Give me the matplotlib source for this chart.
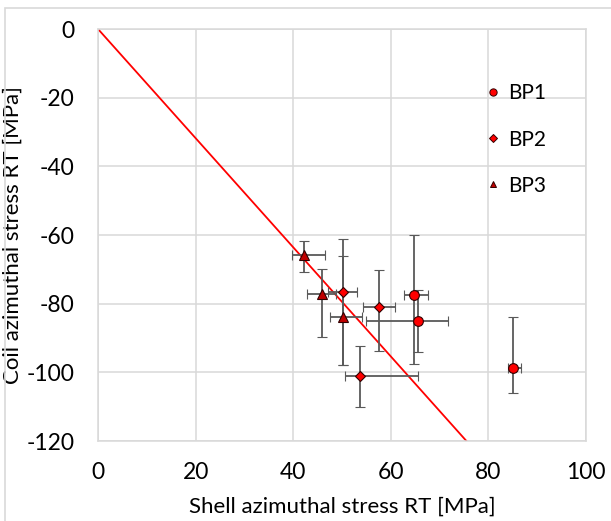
import matplotlib.pyplot as plt
from matplotlib.lines import Line2D
from matplotlib.patches import Rectangle

plt.rcParams['font.family'] = ['Lato', 'DejaVu Sans']
plt.rcParams['axes.unicode_minus'] = False

# values: centre, and low/high ends of each error bar
bp1_x = [64.8, 65.5, 85.0]
bp1_y = [-77.5, -85.1, -98.8]
bp1_x_lo = [62.8, 54.9, 84.0]
bp1_x_hi = [67.7, 71.7, 86.7]
bp1_y_lo = [-97.7, -94.0, -105.9]
bp1_y_hi = [-60.0, -76.0, -84.0]

bp2_x = [50.3, 57.6, 53.7]
bp2_y = [-76.5, -80.9, -101.2]
bp2_x_lo = [47.1, 54.4, 50.6]
bp2_x_hi = [53.1, 60.9, 65.6]
bp2_y_lo = [-97.8, -93.8, -110.0]
bp2_y_hi = [-61.2, -70.2, -92.2]

bp3_x = [42.2, 46.0, 50.3]
bp3_y = [-65.8, -77.2, -83.8]
bp3_x_lo = [39.7, 42.9, 47.5]
bp3_x_hi = [46.5, 48.7, 54.2]
bp3_y_lo = [-70.8, -89.8, -97.8]
bp3_y_hi = [-61.8, -69.8, -66.1]

line_x = [0, 75.5]
line_y = [0, -120]


def errs(c, lo, hi):
    return [[ci - l for ci, l in zip(c, lo)], [h - ci for ci, h in zip(c, hi)]]


fig = plt.figure(figsize=(6.11, 5.21), dpi=100)
ax = fig.add_axes([98 / 611, 1 - 441 / 521, 488 / 611, 412 / 521])

# outer light frame of the original chart box
fig.patches.append(Rectangle((5 / 611, -0.1), 1.2, (521 - 8) / 521 + 0.1,
                             transform=fig.transFigure, fill=False,
                             edgecolor='#d9d9d9', linewidth=1.2))

ax.plot(line_x, line_y, color='#ff0000', linewidth=1.3, zorder=2)

series = [
    ('BP1', bp1_x, bp1_y, bp1_x_lo, bp1_x_hi, bp1_y_lo, bp1_y_hi, 'o', 7, '#ff0000'),
    ('BP2', bp2_x, bp2_y, bp2_x_lo, bp2_x_hi, bp2_y_lo, bp2_y_hi, 'D', 5, '#ff0000'),
    ('BP3', bp3_x, bp3_y, bp3_x_lo, bp3_x_hi, bp3_y_lo, bp3_y_hi, '^', 6.5, '#c00000'),
]
handles = []
for name, x, y, xl, xh, yl, yh, m, ms, fc in series:
    ax.errorbar(x, y, xerr=errs(x, xl, xh), yerr=errs(y, yl, yh),
                fmt=m, ms=ms, mfc=fc, mec='#300000', mew=0.8,
                ecolor='#595959', elinewidth=1.3, capsize=3.5, capthick=1.3, zorder=3)
    handles.append(Line2D([], [], marker=m, ls='none', ms=ms * 0.75, mfc=fc,
                          mec='#300000', mew=0.7, label=name))

ax.set_xlim(0, 100)
ax.set_ylim(-120, 0)
ax.set_xticks(range(0, 101, 20))
ax.set_yticks(range(-120, 1, 20))
ax.grid(True, color='#d9d9d9', linewidth=1.1, zorder=0)
ax.set_axisbelow(True)
for s in ax.spines.values():
    s.set_color('#d9d9d9')
    s.set_linewidth(1.1)
ax.tick_params(axis='y', length=0, labelsize=16.5, pad=17, colors='black')
ax.tick_params(axis='x', length=0, labelsize=16.5, pad=15, colors='black')

ax.set_xlabel('Shell azimuthal stress RT [MPa]', fontsize=16, labelpad=10)
ax.set_ylabel('Coil azimuthal stress RT [MPa]', fontsize=16)
ax.yaxis.set_label_coords(-0.155, 0.5)

ax.legend(handles=handles, loc='upper left', bbox_to_anchor=(0.77, 0.888),
          frameon=False, fontsize=15, labelspacing=1.25, handletextpad=0.25,
          handlelength=1.0, borderaxespad=0)

fig.savefig('out.png', dpi=100)
